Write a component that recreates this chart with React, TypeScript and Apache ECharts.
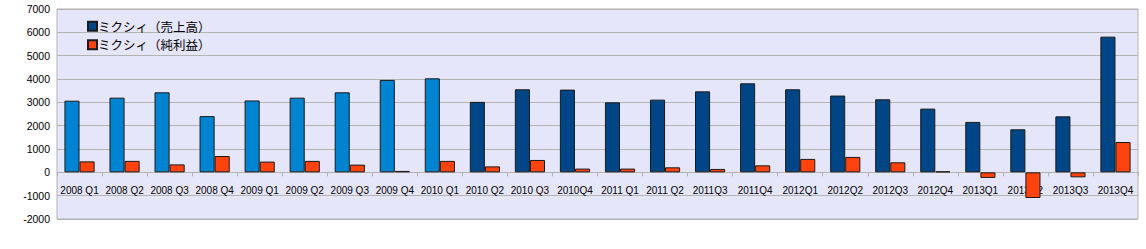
import React, { useEffect, useRef } from "react";
import * as echarts from "echarts";

const categories = [
  "2008 Q1", "2008 Q2", "2008 Q3", "2008 Q4",
  "2009 Q1", "2009 Q2", "2009 Q3", "2009 Q4",
  "2010 Q1", "2010 Q2", "2010 Q3", "2010Q4",
  "2011 Q1", "2011 Q2", "2011Q3", "2011Q4",
  "2012Q1", "2012Q2", "2012Q3", "2012Q4",
  "2013Q1", "2013Q2", "2013Q3", "2013Q4",
];

const sales = [
  3070, 3200, 3430, 2410,
  3080, 3200, 3430, 3960,
  4030, 3020, 3560, 3545,
  3000, 3115, 3470, 3815,
  3560, 3290, 3130, 2730,
  2160, 1845, 2400, 5815,
];

const netIncome = [
  470, 490, 340, 700,
  460, 490, 330, 60,
  490, 255, 530, 160,
  160, 215, 145, 300,
  575, 660, 430, 40,
  -240, -1100, -215, 1300,
];

const yTicks = { min: -2000, max: 7000, interval: 1000 };

const salesSeriesName = "ミクシィ（売上高）";
const incomeSeriesName = "ミクシィ（純利益）";

const lightBlue = "#0084d1";
const darkBlue = "#004586";
const orange = "#ff420e";
const lightBlueCount = 9;

export default function App() {
  const ref = useRef<HTMLDivElement>(null);

  useEffect(() => {
    if (!ref.current) return;
    const chart = echarts.init(ref.current, undefined, { renderer: "svg" });
    const axisFont = "'Liberation Sans', Arial, sans-serif";
    const gridTop = 9;
    const gridBottom = 30;
    const gridHeight = 249 - gridTop - gridBottom;
    const zeroOffset = (gridHeight * (0 - yTicks.min)) / (yTicks.max - yTicks.min);

    chart.setOption({
      animation: false,
      backgroundColor: "#ffffff",
      grid: {
        left: 57,
        right: 8,
        top: gridTop,
        bottom: gridBottom,
        show: true,
        backgroundColor: "#e6e6fa",
        borderColor: "#b3b3b3",
        borderWidth: 1,
      },
      legend: {
        orient: "vertical",
        left: 82,
        top: 15,
        icon: "rect",
        itemWidth: 9,
        itemHeight: 9,
        itemGap: 6,
        textStyle: {
          fontFamily: "'Noto Sans CJK JP', sans-serif",
          fontSize: 12.5,
          color: "#000",
          padding: [0, 0, 0, -4],
        },
        data: [salesSeriesName, incomeSeriesName],
      },
      xAxis: {
        type: "category",
        data: categories,
        offset: -zeroOffset,
        axisLine: { onZero: false, lineStyle: { color: "#b3b3b3" } },
        axisTick: { show: true, length: 4, lineStyle: { color: "#b3b3b3" } },
        axisLabel: {
          interval: 0,
          margin: 13,
          fontSize: 10,
          fontFamily: axisFont,
          color: "#000",
        },
        z: 0,
      },
      yAxis: {
        type: "value",
        min: yTicks.min,
        max: yTicks.max,
        interval: yTicks.interval,
        axisLine: { show: false },
        axisTick: { show: false },
        splitLine: { lineStyle: { color: "#b3b3b3", width: 1 } },
        axisLabel: {
          margin: 7,
          fontSize: 10.5,
          fontFamily: axisFont,
          color: "#000",
          formatter: (v: number) => String(v),
        },
      },
      series: [
        {
          name: salesSeriesName,
          type: "bar",
          barGap: "0%",
          barCategoryGap: "33%",
          itemStyle: { color: darkBlue, borderColor: "#1a1a1a", borderWidth: 1 },
          data: sales.map((v, i) => ({
            value: v,
            itemStyle: { color: i < lightBlueCount ? lightBlue : darkBlue },
          })),
          z: 3,
        },
        {
          name: incomeSeriesName,
          type: "bar",
          barGap: "0%",
          barCategoryGap: "33%",
          itemStyle: { color: orange, borderColor: "#1a1a1a", borderWidth: 1 },
          data: netIncome,
          z: 3,
        },
      ],
    });
    return () => chart.dispose();
  }, []);

  return <div ref={ref} style={{ width: 1146, height: 249, position: "absolute", left: 0, top: 0 }} />;
}
